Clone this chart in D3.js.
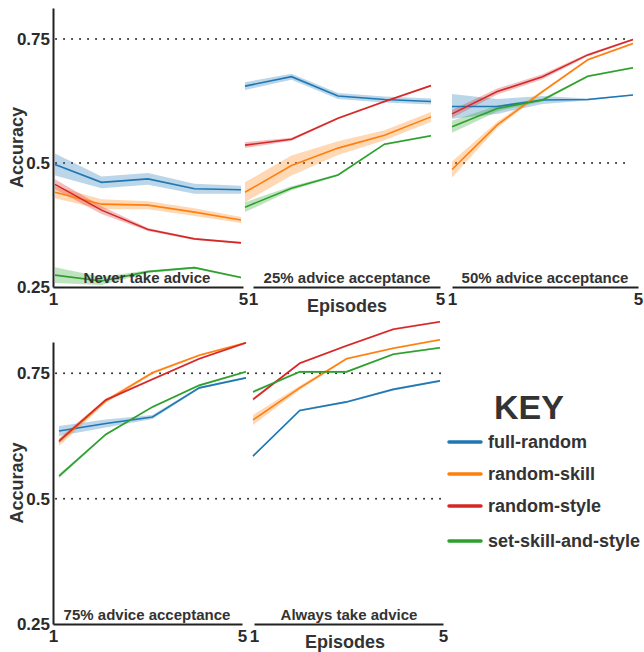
<!DOCTYPE html>
<html>
<head>
<meta charset="utf-8">
<script src="https://cdn.jsdelivr.net/npm/d3@7"></script>
<style>
  body { margin: 0; background: #fff; }
  text { font-family: 'Liberation Sans', Arial, sans-serif; font-weight: bold; }
</style>
</head>
<body>
<div id="app"></div>
<script>
// data
const episodes = [1, 2, 3, 4, 5];
const seriesNames = ['full-random', 'random-skill', 'random-style', 'set-skill-and-style'];
const yTicks = [0.25, 0.5, 0.75];

// mean accuracy, one row per series (same order as seriesNames)
const neverMean = [
  [0.497, 0.461, 0.468, 0.448, 0.446],
  [0.441, 0.417, 0.415, 0.401, 0.385],
  [0.457, 0.405, 0.366, 0.347, 0.339],
  [0.274, 0.262, 0.281, 0.289, 0.269]
];
const neverErr = [
  [0.022, 0.012, 0.012, 0.010, 0.008],
  [0.012, 0.010, 0.008, 0.008, 0.006],
  [0.010, 0.008, 0.003, 0.002, 0.002],
  [0.016, 0.008, 0.003, 0.002, 0.002]
];
const pct25Mean = [
  [0.655, 0.674, 0.635, 0.628, 0.624],
  [0.441, 0.495, 0.530, 0.556, 0.593],
  [0.536, 0.548, 0.590, 0.624, 0.656],
  [0.411, 0.449, 0.476, 0.538, 0.555]
];
const pct25Err = [
  [0.008, 0.006, 0.006, 0.006, 0.006],
  [0.020, 0.020, 0.014, 0.010, 0.010],
  [0.006, 0.003, 0.002, 0.002, 0.002],
  [0.010, 0.004, 0.002, 0.002, 0.002]
];
const pct50Mean = [
  [0.614, 0.614, 0.627, 0.628, 0.637],
  [0.487, 0.577, 0.644, 0.708, 0.741],
  [0.599, 0.644, 0.674, 0.718, 0.749],
  [0.573, 0.610, 0.627, 0.675, 0.692]
];
const pct50Err = [
  [0.025, 0.015, 0.008, 0.002, 0.001],
  [0.016, 0.006, 0.003, 0.002, 0.002],
  [0.008, 0.006, 0.005, 0.003, 0.002],
  [0.012, 0.006, 0.003, 0.002, 0.002]
];
const pct75Mean = [
  [0.635, 0.650, 0.663, 0.721, 0.741],
  [0.613, 0.695, 0.751, 0.786, 0.811],
  [0.615, 0.697, 0.738, 0.779, 0.811],
  [0.545, 0.628, 0.683, 0.726, 0.753]
];
const pct75Err = [
  [0.010, 0.008, 0.004, 0.002, 0.002],
  [0.008, 0.004, 0.003, 0.002, 0.002],
  [0.004, 0.003, 0.002, 0.002, 0.002],
  [0.004, 0.002, 0.002, 0.002, 0.002]
];
const alwaysMean = [
  [0.585, 0.676, 0.693, 0.718, 0.735],
  [0.657, 0.721, 0.779, 0.800, 0.817],
  [0.698, 0.770, 0.805, 0.838, 0.853],
  [0.713, 0.753, 0.753, 0.788, 0.801]
];
const alwaysErr = [
  [0.002, 0.002, 0.002, 0.002, 0.002],
  [0.010, 0.004, 0.002, 0.002, 0.002],
  [0.003, 0.002, 0.002, 0.002, 0.002],
  [0.003, 0.002, 0.002, 0.002, 0.002]
];

const colors = ['#1f77b4', '#ff7f0e', '#d62728', '#2ca02c'];

const width = 644, height = 652;

const svg = d3.select('#app').append('svg')
  .attr('width', width)
  .attr('height', height);

// rows: bottom of y axis, top of y axis, right end of dotted lines
const rows = [
  { bottom: 287, top: 8, dotEnd: 632 },
  { bottom: 624, top: 342, dotEnd: 443 }
];

// panel layout: data x range and axis-line x range
const panels = [
  { row: 0, title: 'Never take advice', mean: neverMean, err: neverErr, data: [55, 241], axis: [53, 243], titleX: 147 },
  { row: 0, title: '25% advice acceptance', mean: pct25Mean, err: pct25Err, data: [245, 431], axis: [253, 440], titleX: 347 },
  { row: 0, title: '50% advice acceptance', mean: pct50Mean, err: pct50Err, data: [452, 633], axis: [452, 638], titleX: 545 },
  { row: 1, title: '75% advice acceptance', mean: pct75Mean, err: pct75Err, data: [59, 246], axis: [53, 242], titleX: 147 },
  { row: 1, title: 'Always take advice', mean: alwaysMean, err: alwaysErr, data: [253, 440], axis: [254, 443], titleX: 349 }
];

rows.forEach(r => {
  r.y = d3.scaleLinear().domain([0.25, 0.8125]).range([r.bottom, r.top]);

  // dotted reference lines
  [0.5, 0.75].forEach(v => {
    svg.append('line')
      .attr('x1', 56).attr('x2', r.dotEnd)
      .attr('y1', r.y(v)).attr('y2', r.y(v))
      .attr('stroke', '#333')
      .attr('stroke-width', 2)
      .attr('stroke-linecap', 'round')
      .attr('stroke-dasharray', '0.1,7.9');
  });

  const gy = svg.append('g')
    .attr('transform', 'translate(53,0)')
    .call(d3.axisLeft(r.y).tickValues(yTicks).tickSize(0).tickPadding(3).tickFormat(d => String(d)));
  gy.select('.domain').attr('stroke', '#222').attr('stroke-width', 2);
  gy.selectAll('text')
    .attr('fill', '#2a2a2a')
    .style('font-size', '17px')
    .style('font-family', "'Liberation Sans', Arial, sans-serif")
    .style('font-weight', 'bold');

  svg.append('text')
    .attr('transform', 'translate(23,' + ((r.top + r.bottom) / 2) + ') rotate(-90)')
    .attr('text-anchor', 'middle')
    .attr('fill', '#333')
    .style('font-size', '18px')
    .text('Accuracy');
});

panels.forEach(p => {
  const r = rows[p.row];
  const x = d3.scaleLinear().domain([1, 5]).range(p.data);
  const xa = d3.scaleLinear().domain([1, 5]).range(p.axis);
  const g = svg.append('g');

  p.mean.forEach((vals, i) => {
    const pts = episodes.map((e, k) => ({ e: e, v: vals[k], s: p.err[i][k] }));

    //shaded spread band
    g.append('path')
      .datum(pts)
      .attr('fill', colors[i])
      .attr('fill-opacity', 0.3)
      .attr('d', d3.area()
        .x(d => x(d.e))
        .y0(d => r.y(d.v - d.s))
        .y1(d => r.y(d.v + d.s)));
  });

  p.mean.forEach((vals, i) => {
    g.append('path')
      .datum(episodes.map((e, k) => ({ e: e, v: vals[k] })))
      .attr('fill', 'none')
      .attr('stroke', colors[i])
      .attr('stroke-width', 1.6)
      .attr('d', d3.line().x(d => x(d.e)).y(d => r.y(d.v)));
  });

  const gx = svg.append('g')
    .attr('transform', 'translate(0,' + r.bottom + ')')
    .call(d3.axisBottom(xa).tickValues([1, 5]).tickSize(0).tickPadding(6).tickFormat(d3.format('d')));
  gx.select('.domain').attr('stroke', '#222').attr('stroke-width', 2);
  gx.selectAll('text')
    .attr('fill', '#2a2a2a')
    .style('font-size', '17px')
    .style('font-family', "'Liberation Sans', Arial, sans-serif")
    .style('font-weight', 'bold');

  svg.append('text')
    .attr('x', p.titleX)
    .attr('y', r.bottom - 4)
    .attr('text-anchor', 'middle')
    .attr('fill', '#333')
    .style('font-size', '15px')
    .text(p.title);
});

// x axis titles
[{ x: 347, y: 312 }, { x: 345, y: 648 }].forEach(t => {
  svg.append('text')
    .attr('x', t.x)
    .attr('y', t.y)
    .attr('text-anchor', 'middle')
    .attr('fill', '#333')
    .style('font-size', '18px')
    .text('Episodes');
});

// legend
svg.append('text')
  .attr('x', 529)
  .attr('y', 419)
  .attr('text-anchor', 'middle')
  .attr('fill', '#333')
  .style('font-size', '34px')
  .text('KEY');

const legendY = [442, 474, 506, 541];
const legend = svg.selectAll('.legend')
  .data(seriesNames)
  .enter()
  .append('g')
  .attr('transform', (d, i) => 'translate(0,' + legendY[i] + ')');

legend.append('line')
  .attr('x1', 449).attr('x2', 481)
  .attr('stroke', (d, i) => colors[i])
  .attr('stroke-width', 3.5)
  .attr('stroke-linecap', 'round');

legend.append('text')
  .attr('x', 488)
  .attr('y', 6)
  .attr('fill', '#333')
  .style('font-size', '18px')
  .text(d => d);
</script>
</body>
</html>
